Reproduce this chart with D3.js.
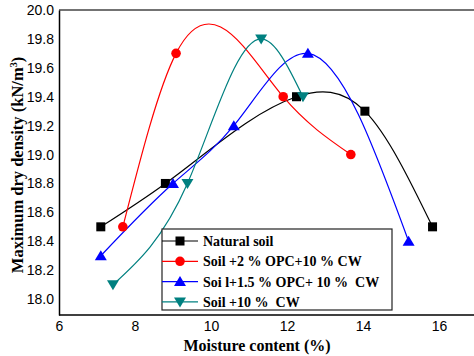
<!DOCTYPE html>
<html><head><meta charset="utf-8">
<script src="https://cdn.jsdelivr.net/npm/d3@7"></script>
<style>body{margin:0;background:#fff}svg{display:block}</style>
</head><body>
<svg id="c" width="474" height="356"></svg>
<script>
const seriesNames = ["Natural soil", "Soil +2 % OPC+10 % CW", "Soi l+1.5 % OPC+ 10 %  CW", "Soil +10 %  CW"];
const naturalX = [7.1, 8.8, 12.25, 14.05, 15.83];
const naturalY = [18.5, 18.8, 19.4, 19.3, 18.5];
const opc2X = [7.68, 9.08, 11.9, 13.68];
const opc2Y = [18.5, 19.7, 19.4, 19.0];
const opc15X = [7.1, 9.0, 10.6, 12.55, 15.2];
const opc15Y = [18.3, 18.8, 19.2, 19.7, 18.4];
const cw10X = [7.42, 9.38, 11.32, 12.42];
const cw10Y = [18.1, 18.8, 19.8, 19.4];
const xTicks = [6, 8, 10, 12, 14, 16];
const yTicks = [18.0, 18.2, 18.4, 18.6, 18.8, 19.0, 19.2, 19.4, 19.6, 19.8, 20.0];
const colors = ["#000000", "#ff0000", "#0000ff", "#008080"];
const markers = ["square", "circle", "triangle", "triangleDown"];

// custom d3 curve: natural cubic spline with y as a function of x
function SplineX(context) { this._context = context; }
SplineX.prototype = {
  areaStart() { this._line = 0; }, areaEnd() { this._line = NaN; },
  lineStart() { this._x = []; this._y = []; },
  point(px, py) { this._x.push(+px); this._y.push(+py); },
  lineEnd() {
    const X = this._x, Y = this._y, n = X.length, c = this._context;
    if (!n) return;
    c.moveTo(X[0], Y[0]);
    if (n < 3) { for (let i = 1; i < n; i++) c.lineTo(X[i], Y[i]); return; }
    const h = [], s = [];
    for (let i = 0; i < n - 1; i++) { h.push(X[i + 1] - X[i]); s.push((Y[i + 1] - Y[i]) / h[i]); }
    // tridiagonal for M[1..n-2]
    const m = n - 2, a = [], b = [], cc = [], r = [];
    for (let k = 0; k < m; k++) {
      const i = k + 1;
      a.push(h[i - 1]); b.push(2 * (h[i - 1] + h[i])); cc.push(h[i]); r.push(6 * (s[i] - s[i - 1]));
    }
    for (let k = 1; k < m; k++) { const w = a[k] / b[k - 1]; b[k] -= w * cc[k - 1]; r[k] -= w * r[k - 1]; }
    const M = new Array(n).fill(0);
    for (let k = m - 1; k >= 0; k--) M[k + 1] = (r[k] - (k < m - 1 ? cc[k] * M[k + 2] : 0)) / b[k];
    for (let i = 0; i < n - 1; i++) {
      const d0 = s[i] - h[i] * (2 * M[i] + M[i + 1]) / 6;
      const d1 = s[i] + h[i] * (M[i] + 2 * M[i + 1]) / 6;
      c.bezierCurveTo(X[i] + h[i] / 3, Y[i] + d0 * h[i] / 3, X[i + 1] - h[i] / 3, Y[i + 1] - d1 * h[i] / 3, X[i + 1], Y[i + 1]);
    }
  }
};
const curveSplineX = ctx => new SplineX(ctx);

const svg = d3.select("#c");
const x = d3.scaleLinear().domain([6, 17]).range([59, 477]);
const y = d3.scaleLinear().domain([17.89, 20.0]).range([315, 10]);

svg.append("line").attr("x1", 59).attr("x2", 474).attr("y1", 10).attr("y2", 10).attr("stroke", "#444").attr("stroke-width", 1.5);

const xa = svg.append("g").attr("transform", "translate(0,315)")
  .call(d3.axisBottom(x).tickValues(xTicks).tickSize(0).tickPadding(6).tickFormat(d3.format("d")));
const ya = svg.append("g").attr("transform", "translate(59,0)")
  .call(d3.axisLeft(y).tickValues(yTicks).tickSize(0).tickPadding(5).tickFormat(d3.format(".1f")));
[xa, ya].forEach(a => {
  a.select(".domain").attr("stroke", "#000").attr("stroke-width", 1.5);
  a.selectAll("text").attr("font-family", "Liberation Sans, Arial, sans-serif").attr("font-size", 14).attr("fill", "#000");
});
xa.select(".domain").attr("d", "M59,0H474");

const data = [
  [naturalX, naturalY], [opc2X, opc2Y], [opc15X, opc15Y], [cw10X, cw10Y]
];
const line = d3.line().x(d => x(d[0])).y(d => y(d[1])).curve(curveSplineX);

function marker(g, type, cx, cy, col) {
  if (type === "square") g.append("rect").attr("x", cx - 4.5).attr("y", cy - 4.5).attr("width", 9).attr("height", 9).attr("fill", col);
  else if (type === "circle") g.append("circle").attr("cx", cx).attr("cy", cy).attr("r", 4.8).attr("fill", col);
  else if (type === "triangle") g.append("path").attr("d", `M${cx},${cy - 5.5}L${cx + 6},${cy + 4.5}L${cx - 6},${cy + 4.5}Z`).attr("fill", col);
  else g.append("path").attr("d", `M${cx},${cy + 5.5}L${cx + 6},${cy - 4.5}L${cx - 6},${cy - 4.5}Z`).attr("fill", col);
}

data.forEach((s, i) => {
  const pts = s[0].map((v, j) => [v, s[1][j]]);
  svg.append("path").attr("d", line(pts)).attr("fill", "none").attr("stroke", colors[i]).attr("stroke-width", 1.2);
});
data.forEach((s, i) => {
  const g = svg.append("g");
  s[0].forEach((v, j) => marker(g, markers[i], x(v), y(s[1][j]), colors[i]));
});

const lg = svg.append("g");
lg.append("rect").attr("x", 162).attr("y", 229).attr("width", 230).attr("height", 81).attr("fill", "#fff").attr("stroke", "#222").attr("stroke-width", 1.2);
seriesNames.forEach((n, i) => {
  const yy = 241 + i * 20.3;
  lg.append("line").attr("x1", 162).attr("x2", 198).attr("y1", yy).attr("y2", yy).attr("stroke", colors[i]).attr("stroke-width", 1.2);
  marker(lg, markers[i], 180, yy, colors[i]);
  lg.append("text").attr("x", 203).attr("y", yy + 5).text(n)
    .attr("font-family", "Liberation Serif, Times New Roman, serif").attr("font-weight", "bold").attr("font-size", 14).style("white-space", "pre");
});

svg.append("text").attr("x", 257).attr("y", 351).attr("text-anchor", "middle")
  .attr("font-family", "Liberation Serif, Times New Roman, serif").attr("font-weight", "bold").attr("font-size", 16).text("Moisture content (%)");
const yl = svg.append("text").attr("transform", "translate(23,165) rotate(-90)").attr("text-anchor", "middle")
  .attr("font-family", "Liberation Serif, Times New Roman, serif").attr("font-weight", "bold").attr("font-size", 16.5);
yl.append("tspan").text("Maximum dry density (kN/m");
yl.append("tspan").attr("dy", -6).attr("font-size", 10).text("3");
yl.append("tspan").attr("dy", 6).text(")");
</script>
</body></html>
